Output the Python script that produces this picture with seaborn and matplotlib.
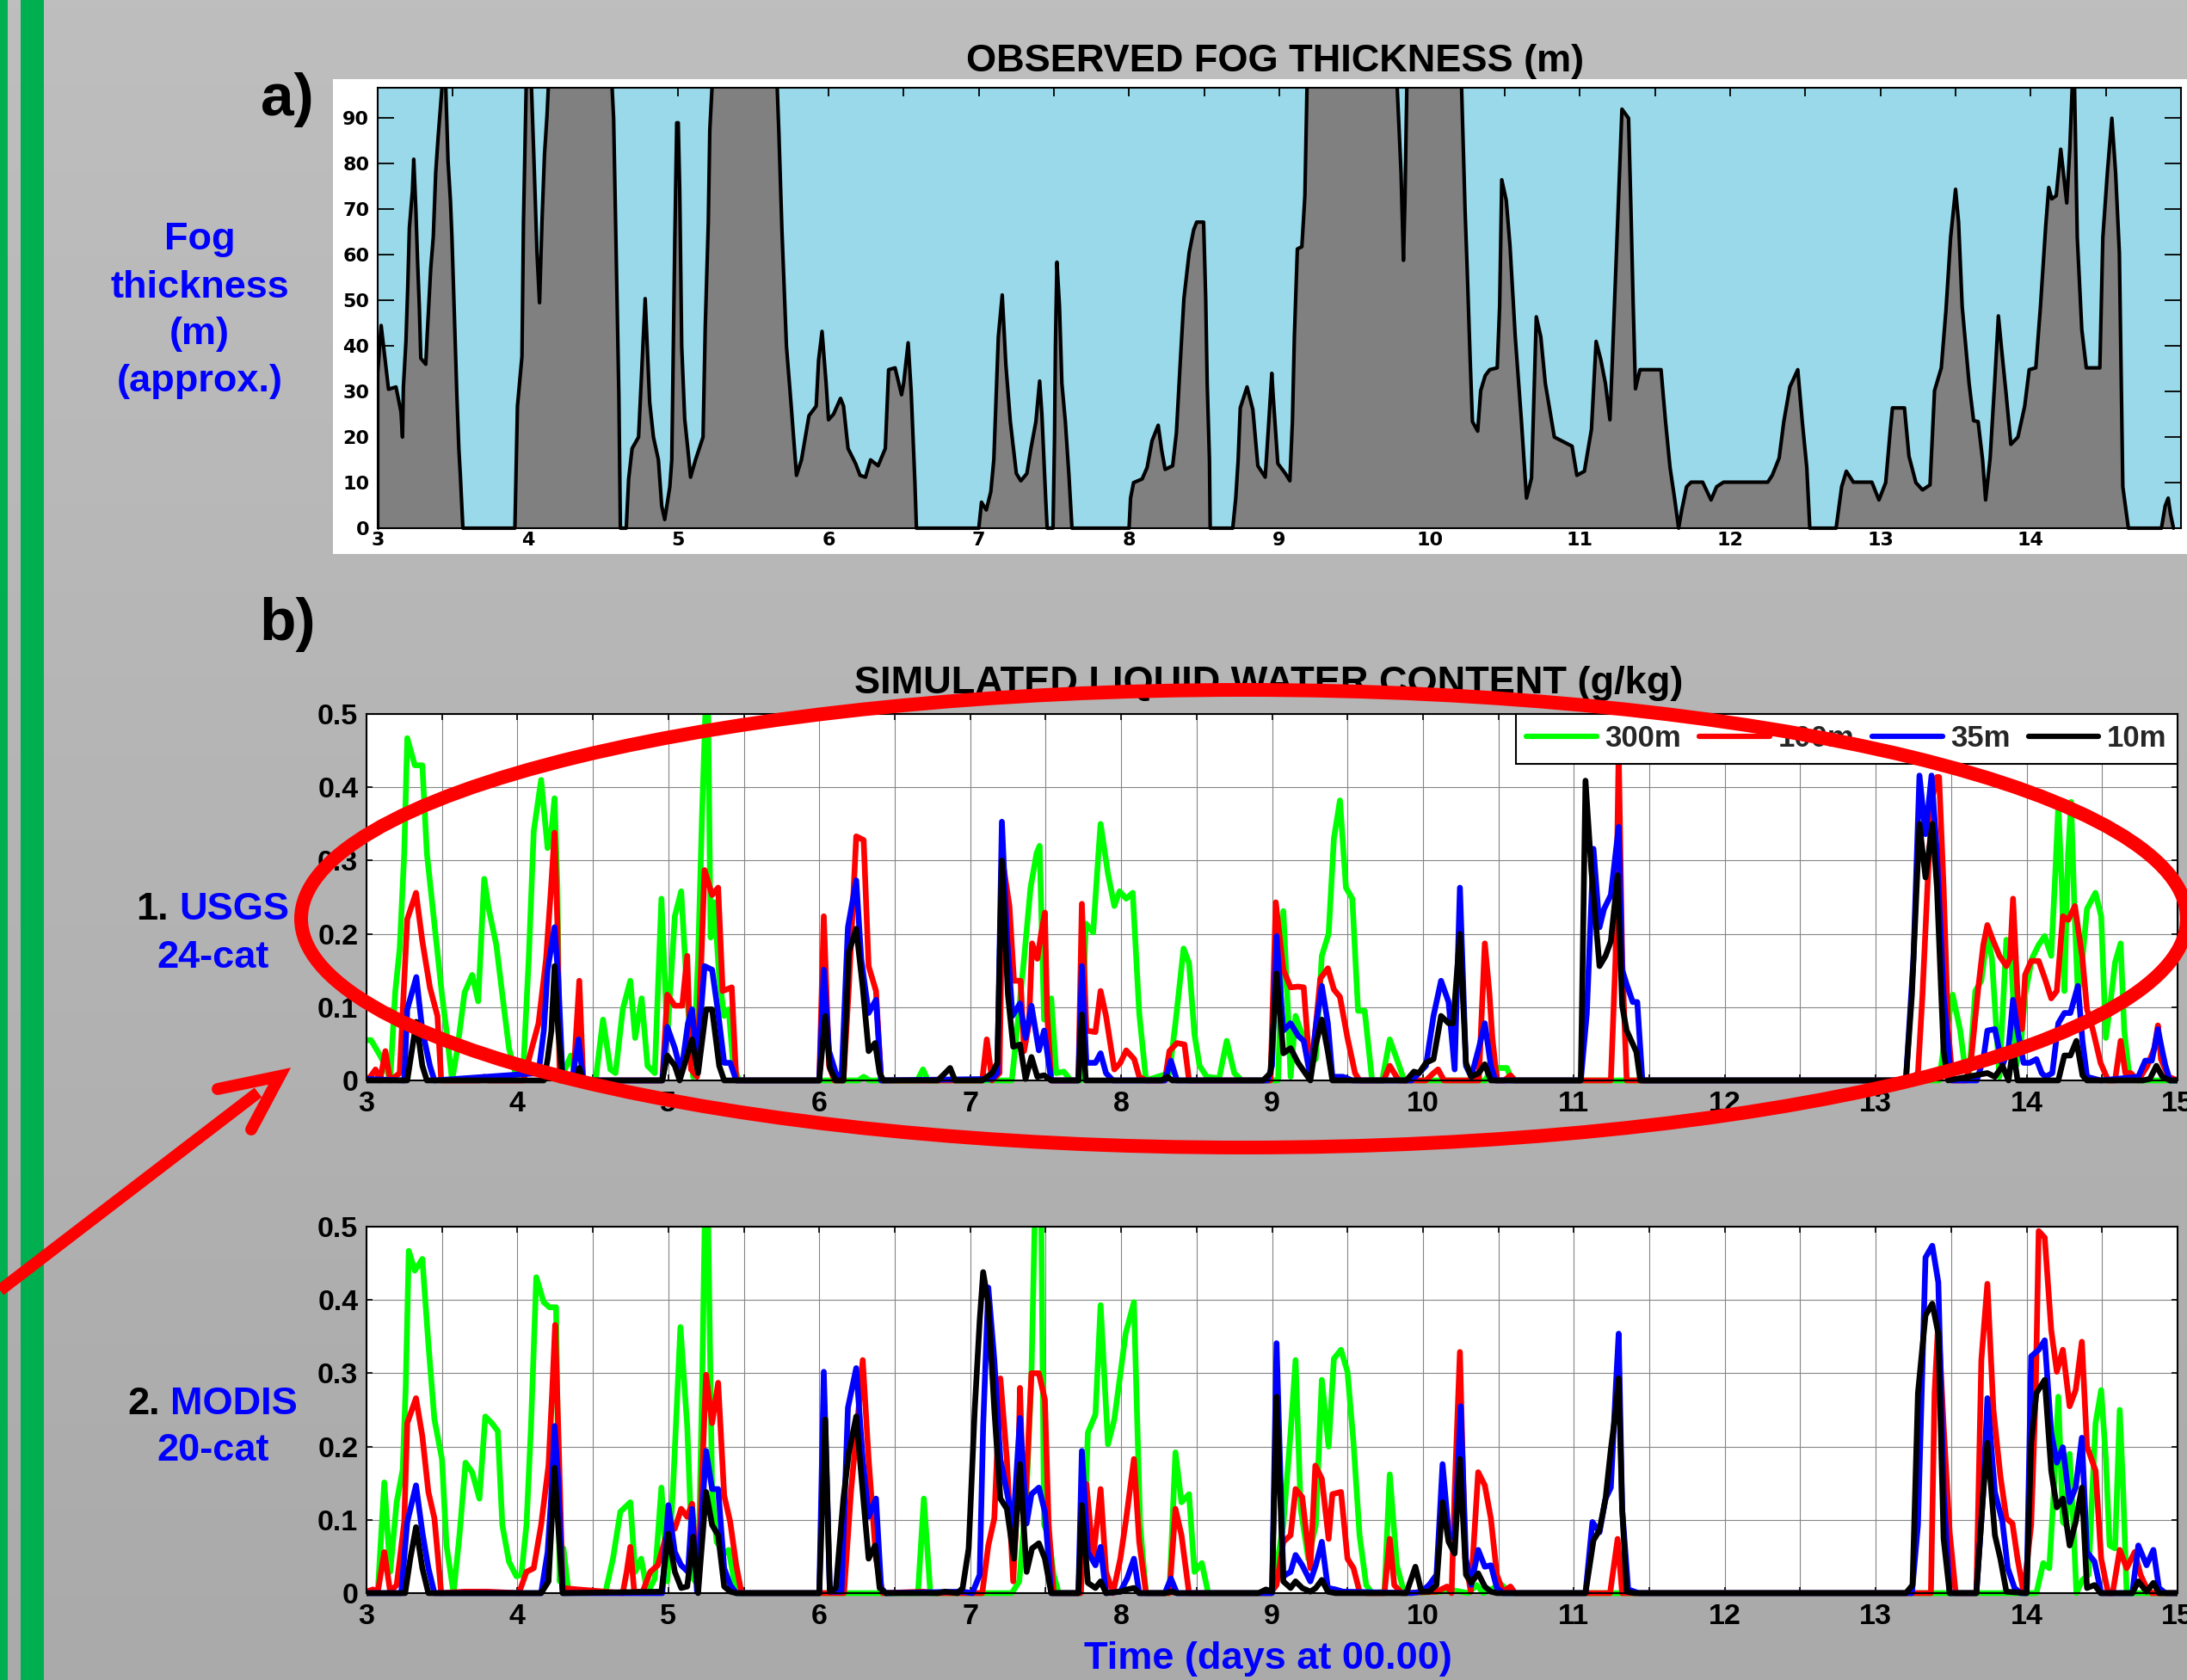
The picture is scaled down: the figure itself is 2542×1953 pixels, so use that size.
import numpy as np
import pandas as pd
import matplotlib
matplotlib.use("Agg")
import matplotlib.pyplot as plt
import seaborn as sns
from matplotlib.patches import Rectangle, Ellipse
from matplotlib.lines import Line2D
from matplotlib.transforms import Bbox, TransformedBbox

# ---------------- DATA ----------------
# a) observed fog thickness (m): (day, thickness); >96.7 m is clipped by the axis
fog = [
 (3.0,0),(3.0,34),(3.023,44.5),(3.072,30.5),(3.122,31),(3.155,25.5),(3.165,20),(3.171,31),(3.188,41),(3.2,53),(3.211,66),(3.231,74),(3.24,81),(3.254,70),(3.265,59),(3.277,48.7),(3.287,37.3),(3.32,36),(3.33,42.8),(3.353,57),(3.37,64),(3.386,78),(3.402,85.8),(3.418,92.5),(3.435,100),(3.45,100),(3.468,80.7),(3.484,72),(3.494,64),(3.517,40),(3.527,29),(3.54,17.5),(3.55,11.6),(3.567,0),
 (3.913,0),(3.93,26.8),(3.96,37.7),(3.97,67),(3.99,100),(4.02,100),(4.04,80.7),(4.06,60.5),(4.077,49.5),(4.094,68),(4.11,82),(4.127,90.8),(4.14,100),(4.555,100),(4.57,90),(4.588,58.8),(4.605,29),(4.615,0),
 (4.654,0),(4.67,10.8),(4.693,17.5),(4.736,20),(4.758,35),(4.78,50.4),(4.79,42.8),(4.81,27.6),(4.835,20),(4.868,15),(4.89,4.9),(4.91,1.9),(4.944,9.1),(4.957,15),(4.977,63),(4.99,89),(5.0,89),(5.01,74),(5.023,40),(5.043,24),(5.066,16.7),(5.082,11.2),(5.115,15),(5.165,20),(5.18,44.5),(5.2,67),(5.21,87.4),(5.23,100),
 (5.655,100),(5.67,86.6),(5.69,65.5),(5.72,40),(5.75,27.6),(5.787,11.6),(5.82,15),(5.87,24.7),(5.918,26.8),(5.934,36.9),(5.957,43.2),(5.984,31.8),(6.0,23.8),(6.033,25),(6.08,28.5),(6.1,26.8),(6.13,17.5),(6.18,14.2),(6.21,11.6),(6.246,11.2),(6.28,15),(6.33,13.7),(6.378,17.5),(6.4,34.8),(6.443,35.2),(6.486,29.3),(6.5,31.8),(6.53,40.7),(6.55,30),(6.575,9.9),(6.585,0),
 (7.0,0),(7.018,5.7),(7.05,4),(7.08,8),(7.1,15),(7.13,42),(7.156,51.2),(7.18,36),(7.21,23.4),(7.25,12),(7.28,10.4),(7.32,12),(7.347,17.5),(7.38,23.4),(7.405,32.3),(7.42,25),(7.445,6.6),(7.455,0),(7.494,0),(7.504,20),(7.51,40),(7.52,58.4),(7.537,48.7),(7.553,31.8),(7.576,23.4),(7.6,11.6),(7.62,0),
 (8.0,0),(8.01,6.6),(8.03,10),(8.087,10.8),(8.12,13.3),(8.153,19.2),(8.194,22.6),(8.217,17.1),(8.24,12.9),(8.29,13.7),(8.315,20.9),(8.34,36),(8.365,50.4),(8.4,60.5),(8.43,65.5),(8.45,67.2),(8.496,67.2),(8.51,50.4),(8.52,31.8),(8.535,15),(8.54,0),
 (8.69,0),(8.71,6.6),(8.726,15),(8.74,26.4),(8.785,31),(8.824,26),(8.857,13.7),(8.906,11.2),(8.93,23.4),(8.95,34),(8.96,28.5),(8.99,14.2),(9.04,12),(9.07,10.4),(9.087,23.4),(9.1,42),(9.12,61.3),(9.15,61.8),(9.17,73),(9.186,100),
 (9.78,100),(9.81,78),(9.826,58.8),(9.836,72),(9.85,100),(10.21,100),(10.22,88.3),(10.236,69.8),(10.25,57),(10.27,36.9),(10.285,23.4),(10.32,21.3),(10.34,30.2),(10.37,33.5),(10.4,34.8),(10.45,35.2),(10.466,48.7),(10.48,76.5),(10.51,72),(10.535,62),(10.57,42),(10.61,24),(10.645,6.6),(10.678,11),(10.71,46.4),(10.74,42),(10.77,31.8),(10.83,20),(10.877,19.2),(10.948,18),(10.98,11.6),(11.03,12.5),(11.077,21.7),(11.108,41),(11.14,36.9),(11.17,31.8),(11.2,23.8),(11.216,36.9),(11.247,63.8),(11.28,92),(11.324,90),(11.34,69.8),(11.355,48.7),(11.37,30.6),(11.4,34.8),(11.54,34.8),(11.57,23.4),(11.6,13.3),(11.63,6.6),(11.657,0),(11.678,4),(11.71,9.1),(11.74,10.1),(11.817,10.1),(11.873,6.2),(11.91,9.1),(11.956,10.1),(12.25,10.1),(12.28,11.6),(12.326,15.4),(12.357,23.4),(12.397,31),(12.45,34.8),(12.48,23.4),(12.51,13.3),(12.53,0),
 (12.705,0),(12.742,9.1),(12.773,12.5),(12.82,10.1),(12.943,10.1),(12.99,6.2),(13.035,10),(13.066,21.7),(13.08,26.4),(13.16,26.4),(13.19,15.8),(13.236,10),(13.28,8.4),(13.33,9.5),(13.36,30.2),(13.405,35.2),(13.436,47.8),(13.467,63.8),(13.5,74.4),(13.52,67.2),(13.544,48.7),(13.59,31.8),(13.62,23.6),(13.65,23.4),(13.68,15),(13.7,6.2),(13.73,15.4),(13.76,31.8),(13.785,46.6),(13.806,39.4),(13.837,29.3),(13.868,18.4),(13.915,20),(13.96,26.8),(13.99,34.8),(14.034,35.2),(14.065,48.7),(14.1,66.4),(14.12,74.8),(14.14,72.3),(14.17,73),(14.2,83.2),(14.22,77.3),(14.24,71.4),(14.26,83.2),(14.28,100),(14.29,100),(14.31,63.8),(14.34,43.6),(14.37,35.2),(14.46,35.2),(14.48,63.8),(14.51,78),(14.54,90),(14.565,78),(14.59,60.5),(14.613,9.1),(14.65,0),(14.87,0),(14.895,4.9),(14.915,6.6),(14.93,3.2),(14.95,0)]

# b1) USGS 24-cat simulated LWC (g/kg): (day, value)
usgs_300m = [
 (3.0,0.055),(3.03,0.055),(3.09,0.034),(3.125,0.02),(3.157,0.0),(3.19,0.12),(3.22,0.18),(3.25,0.31),(3.27,0.467),(3.32,0.43),(3.37,0.43),(3.4,0.31),(3.45,0.214),(3.5,0.117),(3.53,0.068),(3.567,0.0),(3.6,0.04),(3.65,0.12),(3.7,0.144),(3.74,0.108),(3.78,0.275),(3.81,0.234),(3.86,0.185),(3.9,0.117),(3.944,0.044),(3.993,0.005),(4.04,0.02),(4.075,0.166),(4.108,0.34),(4.157,0.41),(4.2,0.317),(4.223,0.336),(4.246,0.385),(4.265,0.263),(4.28,0.0),(4.305,0.01),(4.354,0.034),(4.387,0.0),(4.518,0.0),(4.567,0.083),(4.616,0.015),(4.65,0.01),(4.698,0.097),(4.748,0.136),(4.78,0.058),(4.823,0.112),(4.862,0.02),(4.91,0.01),(4.954,0.248),(4.993,0.058),(5.043,0.224),(5.085,0.258),(5.125,0.117),(5.164,0.005),(5.197,0.166),(5.223,0.36),(5.25,0.53),(5.262,0.53),(5.28,0.195),(5.305,0.243),(5.337,0.141),(5.37,0.088),(5.4,0.097),(5.43,0.02),(5.47,0.0),
 (6.26,0.0),(6.294,0.005),(6.33,0.0),(6.65,0.0),(6.687,0.015),(6.72,0.0),(7.276,0.0),(7.31,0.068),(7.357,0.166),(7.4,0.263),(7.44,0.31),(7.46,0.32),(7.49,0.083),(7.537,0.112),(7.57,0.01),(7.62,0.012),(7.667,0.0),(7.733,0.0),(7.766,0.214),(7.815,0.202),(7.85,0.31),(7.864,0.35),(7.913,0.282),(7.955,0.238),(7.99,0.258),(8.034,0.248),(8.077,0.256),(8.12,0.092),(8.165,0.0),(8.32,0.01),(8.36,0.078),(8.414,0.18),(8.45,0.16),(8.486,0.063),(8.52,0.02),(8.567,0.005),(8.65,0.003),(8.7,0.054),(8.75,0.01),(8.8,0.0),
 (9.04,0.0),(9.075,0.231),(9.107,0.088),(9.123,0.005),(9.156,0.088),(9.19,0.068),(9.24,0.044),(9.29,0.029),(9.33,0.17),(9.375,0.2),(9.41,0.33),(9.45,0.382),(9.49,0.263),(9.532,0.248),(9.57,0.095),(9.614,0.095),(9.663,0.0),(9.73,0.0),(9.78,0.056),(9.827,0.029),(9.876,0.0),(10.415,0.0),(10.45,0.017),(10.51,0.017),(10.556,0.017),(10.59,0.0),
 (13.42,0.0),(13.45,0.044),(13.51,0.117),(13.56,0.068),(13.59,0.02),(13.62,0.01),(13.66,0.122),(13.7,0.136),(13.74,0.2),(13.77,0.166),(13.82,0.005),(13.866,0.192),(13.9,0.161),(13.93,0.02),(13.96,0.044),(13.99,0.117),(14.035,0.166),(14.08,0.185),(14.12,0.197),(14.163,0.17),(14.19,0.282),(14.21,0.375),(14.234,0.263),(14.25,0.122),(14.275,0.31),(14.295,0.38),(14.316,0.238),(14.34,0.117),(14.37,0.166),(14.4,0.234),(14.456,0.256),(14.494,0.224),(14.525,0.058),(14.556,0.107),(14.586,0.161),(14.623,0.187),(14.647,0.068),(14.678,0.01),(14.74,0.0),(15.0,0.0)]
usgs_100m = [
 (3.0,0.002),(3.026,0.005),(3.06,0.015),(3.09,0.0),(3.125,0.04),(3.157,0.0),(3.22,0.01),(3.27,0.22),(3.328,0.256),(3.37,0.19),(3.42,0.127),(3.47,0.088),(3.495,0.0),(3.75,0.0),(3.78,0.005),(3.81,0.0),(4.04,0.0),(4.09,0.04),(4.14,0.078),(4.19,0.166),(4.223,0.263),(4.246,0.338),(4.265,0.214),(4.28,0.0),(4.37,0.0),(4.41,0.136),(4.436,0.0),(4.96,0.0),(4.993,0.117),(5.043,0.102),(5.092,0.102),(5.125,0.17),(5.15,0.015),(5.19,0.005),(5.24,0.287),(5.29,0.253),(5.33,0.263),(5.36,0.122),(5.42,0.127),(5.45,0.0),
 (6.0,0.0),(6.03,0.224),(6.065,0.02),(6.1,0.0),(6.16,0.0),(6.196,0.127),(6.245,0.333),(6.294,0.328),(6.327,0.156),(6.376,0.122),(6.41,0.0),(7.08,0.0),(7.11,0.056),(7.145,0.0),(7.194,0.01),(7.217,0.297),(7.26,0.238),(7.29,0.136),(7.334,0.136),(7.357,0.04),(7.39,0.078),(7.41,0.187),(7.445,0.166),(7.47,0.2),(7.495,0.229),(7.51,0.092),(7.537,0.0),(7.717,0.0),(7.74,0.241),(7.77,0.068),(7.83,0.066),(7.864,0.122),(7.9,0.088),(7.955,0.015),(7.995,0.024),(8.034,0.041),(8.087,0.029),(8.12,0.005),(8.165,0.0),(8.29,0.0),(8.32,0.04),(8.37,0.051),(8.42,0.049),(8.45,0.0),
 (8.99,0.0),(9.025,0.243),(9.075,0.151),(9.123,0.127),(9.173,0.128),(9.21,0.127),(9.254,0.005),(9.287,0.068),(9.32,0.139),(9.37,0.153),(9.41,0.124),(9.45,0.114),(9.5,0.058),(9.55,0.01),(9.58,0.0),(9.74,0.0),(9.78,0.02),(9.81,0.01),(9.84,0.0),(10.02,0.0),(10.07,0.01),(10.1,0.015),(10.14,0.0),(10.37,0.0),(10.41,0.187),(10.44,0.12),(10.46,0.058),(10.49,0.0),(10.54,0.0),(10.58,0.007),(10.61,0.0),(11.245,0.0),(11.276,0.166),(11.297,0.45),(11.32,0.166),(11.35,0.0),
 (13.22,0.0),(13.28,0.01),(13.31,0.117),(13.345,0.273),(13.375,0.385),(13.406,0.414),(13.42,0.414),(13.45,0.263),(13.48,0.068),(13.51,0.0),(13.6,0.0),(13.635,0.034),(13.68,0.127),(13.713,0.185),(13.74,0.212),(13.77,0.195),(13.82,0.17),(13.866,0.156),(13.89,0.166),(13.91,0.248),(13.94,0.117),(13.97,0.07),(13.99,0.144),(14.03,0.163),(14.08,0.163),(14.126,0.136),(14.163,0.112),(14.2,0.122),(14.24,0.224),(14.276,0.219),(14.32,0.238),(14.37,0.166),(14.4,0.097),(14.44,0.068),(14.49,0.024),(14.54,0.0),(14.586,0.0),(14.623,0.054),(14.654,0.01),(14.69,0.01),(14.74,0.0),(14.8,0.02),(14.847,0.044),(14.87,0.075),(14.89,0.029),(14.94,0.005),(15.0,0.0)]
usgs_35m = [
 (3.0,0.002),(3.25,0.0),(3.27,0.097),(3.33,0.141),(3.37,0.068),(3.42,0.02),(3.45,0.0),(4.14,0.01),(4.175,0.068),(4.2,0.151),(4.246,0.209),(4.27,0.141),(4.3,0.0),(4.37,0.01),(4.405,0.056),(4.436,0.0),(4.96,0.0),(4.993,0.073),(5.043,0.044),(5.085,0.01),(5.13,0.078),(5.157,0.097),(5.19,0.024),(5.24,0.156),(5.29,0.151),(5.33,0.092),(5.37,0.024),(5.41,0.024),(5.45,0.0),
 (6.0,0.0),(6.03,0.151),(6.065,0.04),(6.11,0.01),(6.147,0.0),(6.19,0.209),(6.245,0.273),(6.278,0.166),(6.327,0.092),(6.376,0.11),(6.41,0.0),(7.145,0.002),(7.18,0.01),(7.21,0.353),(7.243,0.2),(7.28,0.088),(7.33,0.105),(7.367,0.058),(7.406,0.102),(7.455,0.041),(7.49,0.068),(7.537,0.0),(7.717,0.0),(7.74,0.156),(7.77,0.024),(7.83,0.024),(7.864,0.037),(7.9,0.01),(7.946,0.0),(8.29,0.0),(8.33,0.027),(8.37,0.0),
 (8.97,0.0),(9.0,0.02),(9.03,0.197),(9.075,0.068),(9.123,0.078),(9.173,0.061),(9.21,0.054),(9.254,0.005),(9.29,0.073),(9.33,0.129),(9.37,0.078),(9.4,0.005),(9.47,0.005),(9.532,0.0),(9.925,0.0),(9.974,0.01),(10.02,0.02),(10.07,0.088),(10.12,0.136),(10.17,0.107),(10.21,0.015),(10.245,0.263),(10.285,0.02),(10.32,0.005),(10.37,0.044),(10.41,0.078),(10.45,0.02),(10.48,0.0),
 (11.046,0.0),(11.086,0.092),(11.13,0.316),(11.17,0.209),(11.2,0.234),(11.245,0.253),(11.297,0.346),(11.32,0.151),(11.35,0.131),(11.39,0.107),(11.42,0.107),(11.454,0.0),(13.2,0.0),(13.25,0.166),(13.29,0.416),(13.33,0.336),(13.37,0.416),(13.406,0.31),(13.45,0.117),(13.5,0.0),(13.67,0.0),(13.713,0.029),(13.74,0.068),(13.79,0.07),(13.84,0.02),(13.88,0.044),(13.91,0.11),(13.94,0.068),(13.98,0.024),(14.02,0.024),(14.065,0.029),(14.1,0.01),(14.126,0.005),(14.17,0.01),(14.21,0.078),(14.25,0.092),(14.29,0.092),(14.34,0.129),(14.37,0.054),(14.4,0.005),(14.49,0.0),(14.74,0.005),(14.786,0.027),(14.83,0.027),(14.87,0.07),(14.9,0.039),(14.92,0.02),(14.95,0.0),(15.0,0.0)]
usgs_10m = [
 (3.0,0.0),(3.27,0.0),(3.3,0.04),(3.33,0.08),(3.37,0.02),(3.4,0.0),(4.175,0.0),(4.2,0.029),(4.225,0.068),(4.246,0.156),(4.27,0.068),(4.3,0.0),(4.39,0.0),(4.41,0.017),(4.436,0.0),(4.96,0.0),(4.993,0.034),(5.043,0.02),(5.075,0.0),(5.125,0.034),(5.157,0.056),(5.197,0.01),(5.25,0.097),(5.29,0.097),(5.337,0.02),(5.37,0.0),
 (6.0,0.0),(6.04,0.088),(6.07,0.017),(6.11,0.0),(6.16,0.0),(6.196,0.175),(6.245,0.207),(6.288,0.127),(6.327,0.04),(6.37,0.051),(6.4,0.01),(6.425,0.0),(6.785,0.0),(6.834,0.01),(6.867,0.017),(6.9,0.0),(7.08,0.0),(7.145,0.01),(7.18,0.024),(7.21,0.3),(7.25,0.117),(7.285,0.046),(7.33,0.049),(7.367,0.002),(7.406,0.032),(7.445,0.005),(7.49,0.007),(7.537,0.0),(7.717,0.0),(7.74,0.09),(7.766,0.0),(8.27,0.0),(8.306,0.005),(8.34,0.0),
 (8.94,0.0),(8.99,0.01),(9.03,0.146),(9.075,0.037),(9.123,0.044),(9.173,0.024),(9.22,0.01),(9.254,0.0),(9.29,0.049),(9.33,0.083),(9.37,0.039),(9.4,0.0),(9.89,0.0),(9.94,0.012),(9.974,0.01),(10.02,0.024),(10.07,0.029),(10.12,0.088),(10.17,0.078),(10.2,0.078),(10.245,0.2),(10.285,0.024),(10.32,0.005),(10.37,0.01),(10.41,0.022),(10.45,0.0),
 (11.046,0.0),(11.077,0.409),(11.116,0.287),(11.17,0.156),(11.21,0.17),(11.245,0.19),(11.29,0.28),(11.32,0.102),(11.35,0.068),(11.414,0.039),(11.44,0.0),(13.2,0.0),(13.24,0.117),(13.29,0.35),(13.33,0.277),(13.376,0.35),(13.406,0.263),(13.45,0.039),(13.48,0.0),(13.74,0.01),(13.79,0.005),(13.84,0.02),(13.88,0.0),(13.91,0.044),(13.94,0.0),(14.21,0.0),(14.25,0.034),(14.29,0.034),(14.33,0.054),(14.37,0.007),(14.4,0.0),(14.77,0.0),(14.816,0.002),(14.86,0.02),(14.9,0.005),(14.95,0.0),(15.0,0.0)]

# b2) MODIS 20-cat simulated LWC (g/kg)
modis_300m = [
 (3.0,0.0),(3.075,0.002),(3.118,0.151),(3.157,0.029),(3.2,0.124),(3.24,0.169),(3.26,0.282),(3.28,0.467),(3.32,0.44),(3.37,0.456),(3.41,0.34),(3.45,0.237),(3.5,0.183),(3.53,0.065),(3.577,0.0),(3.616,0.079),(3.656,0.178),(3.7,0.165),(3.748,0.129),(3.787,0.241),(3.83,0.232),(3.87,0.221),(3.9,0.093),(3.944,0.043),(3.993,0.023),(4.026,0.025),(4.06,0.093),(4.09,0.228),(4.125,0.431),(4.174,0.397),(4.213,0.39),(4.256,0.39),(4.28,0.016),(4.305,0.061),(4.338,0.002),(4.436,0.0),(4.584,0.002),(4.633,0.047),(4.682,0.111),(4.748,0.124),(4.78,0.029),(4.82,0.047),(4.862,0.0),(4.91,0.02),(4.954,0.144),(4.993,0.016),(5.03,0.138),(5.08,0.363),(5.125,0.228),(5.164,0.02),(5.197,0.011),(5.223,0.273),(5.243,0.53),(5.262,0.53),(5.29,0.138),(5.32,0.07),(5.37,0.054),(5.4,0.059),(5.45,0.0),
 (6.654,0.0),(6.693,0.129),(6.736,0.0),(7.276,0.0),(7.325,0.016),(7.374,0.138),(7.406,0.3),(7.43,0.53),(7.47,0.53),(7.49,0.093),(7.52,0.079),(7.553,0.025),(7.586,0.0),(7.733,0.0),(7.766,0.138),(7.78,0.219),(7.83,0.244),(7.864,0.393),(7.913,0.203),(7.955,0.237),(7.99,0.291),(8.03,0.354),(8.085,0.397),(8.126,0.093),(8.165,0.0),(8.32,0.0),(8.36,0.192),(8.4,0.124),(8.45,0.135),(8.486,0.029),(8.535,0.041),(8.577,0.0),
 (9.0,0.0),(9.075,0.093),(9.123,0.219),(9.156,0.318),(9.19,0.115),(9.24,0.047),(9.29,0.093),(9.33,0.291),(9.375,0.2),(9.41,0.32),(9.457,0.332),(9.5,0.302),(9.54,0.205),(9.58,0.079),(9.624,0.011),(9.663,0.0),(9.745,0.002),(9.78,0.162),(9.827,0.038),(9.876,0.0),(10.12,0.002),(10.17,0.005),(10.3,0.0),(10.356,0.011),(10.4,0.0),(10.51,0.011),(10.525,0.011),(10.57,0.0),
 (14.065,0.0),(14.11,0.041),(14.15,0.034),(14.18,0.138),(14.21,0.268),(14.24,0.097),(14.26,0.093),(14.285,0.19),(14.31,0.093),(14.33,0.0),(14.37,0.018),(14.41,0.025),(14.43,0.115),(14.457,0.232),(14.494,0.277),(14.525,0.183),(14.55,0.065),(14.586,0.061),(14.617,0.25),(14.64,0.138),(14.663,0.0),(15.0,0.0)]
modis_100m = [
 (3.0,0.002),(3.043,0.005),(3.075,0.002),(3.118,0.056),(3.157,0.002),(3.2,0.011),(3.25,0.097),(3.27,0.232),(3.328,0.266),(3.37,0.214),(3.41,0.138),(3.45,0.102),(3.495,0.0),(3.65,0.002),(3.8,0.002),(4.01,0.0),(4.06,0.029),(4.108,0.034),(4.157,0.093),(4.206,0.174),(4.23,0.273),(4.25,0.366),(4.27,0.228),(4.3,0.007),(4.4,0.005),(4.698,0.0),(4.724,0.029),(4.748,0.063),(4.774,0.002),(4.83,0.002),(4.88,0.029),(4.93,0.038),(4.993,0.083),(5.043,0.088),(5.085,0.115),(5.125,0.104),(5.157,0.122),(5.197,0.002),(5.223,0.16),(5.25,0.298),(5.29,0.232),(5.33,0.287),(5.37,0.133),(5.41,0.097),(5.45,0.038),(5.485,0.0),
 (6.164,0.0),(6.21,0.138),(6.26,0.25),(6.288,0.318),(6.327,0.183),(6.376,0.047),(6.42,0.0),(6.687,0.002),(6.785,0.0),(7.08,0.0),(7.12,0.065),(7.16,0.102),(7.2,0.293),(7.243,0.183),(7.285,0.016),(7.315,0.138),(7.33,0.28),(7.357,0.093),(7.38,0.183),(7.406,0.3),(7.455,0.3),(7.495,0.264),(7.52,0.093),(7.553,0.0),(7.733,0.0),(7.77,0.149),(7.815,0.047),(7.864,0.142),(7.9,0.029),(7.946,0.0),(7.995,0.047),(8.034,0.102),(8.085,0.183),(8.12,0.07),(8.165,0.0),(8.32,0.0),(8.36,0.115),(8.4,0.079),(8.45,0.0),
 (8.99,0.0),(9.03,0.011),(9.075,0.07),(9.123,0.079),(9.156,0.142),(9.2,0.131),(9.254,0.034),(9.287,0.174),(9.33,0.156),(9.375,0.074),(9.4,0.135),(9.457,0.138),(9.5,0.047),(9.54,0.034),(9.58,0.002),(9.63,0.0),(9.745,0.0),(9.78,0.074),(9.81,0.011),(9.86,0.0),(10.09,0.002),(10.16,0.009),(10.19,0.0),(10.21,0.138),(10.245,0.329),(10.28,0.047),(10.317,0.002),(10.366,0.165),(10.41,0.147),(10.45,0.102),(10.49,0.025),(10.53,0.002),(10.58,0.009),(10.61,0.0),(11.24,0.0),(11.29,0.074),(11.32,0.0),
 (13.366,0.0),(13.39,0.273),(13.415,0.372),(13.45,0.228),(13.49,0.083),(13.53,0.0),(13.667,0.0),(13.7,0.318),(13.74,0.422),(13.78,0.25),(13.826,0.16),(13.866,0.102),(13.906,0.095),(13.94,0.047),(13.98,0.0),(14.03,0.093),(14.06,0.273),(14.08,0.494),(14.12,0.485),(14.163,0.359),(14.2,0.302),(14.24,0.332),(14.285,0.255),(14.325,0.277),(14.366,0.343),(14.4,0.2),(14.457,0.167),(14.494,0.047),(14.54,0.0),(14.57,0.0),(14.617,0.059),(14.663,0.034),(14.716,0.056),(14.755,0.025),(14.795,0.007),(14.83,0.0),(15.0,0.0)]
modis_35m = [
 (3.0,0.0),(3.23,0.0),(3.27,0.097),(3.328,0.147),(3.37,0.083),(3.41,0.034),(3.45,0.0),(4.157,0.0),(4.2,0.056),(4.223,0.128),(4.246,0.228),(4.27,0.156),(4.3,0.0),(4.96,0.0),(5.0,0.12),(5.043,0.056),(5.085,0.038),(5.13,0.029),(5.157,0.115),(5.19,0.002),(5.25,0.194),(5.29,0.142),(5.33,0.142),(5.37,0.034),(5.41,0.011),(5.45,0.0),
 (6.0,0.0),(6.03,0.302),(6.07,0.002),(6.147,0.002),(6.19,0.253),(6.245,0.307),(6.288,0.183),(6.327,0.104),(6.376,0.129),(6.41,0.007),(6.44,0.0),(6.95,0.002),(7.014,0.0),(7.063,0.025),(7.086,0.228),(7.12,0.417),(7.16,0.318),(7.2,0.183),(7.243,0.138),(7.285,0.093),(7.33,0.239),(7.374,0.095),(7.406,0.135),(7.455,0.144),(7.495,0.111),(7.537,0.0),(7.717,0.0),(7.74,0.194),(7.78,0.056),(7.83,0.038),(7.864,0.063),(7.9,0.0),(7.995,0.002),(8.04,0.02),(8.085,0.047),(8.12,0.0),(8.29,0.0),(8.33,0.02),(8.37,0.0),
 (9.0,0.0),(9.03,0.341),(9.075,0.023),(9.123,0.029),(9.156,0.052),(9.2,0.038),(9.254,0.016),(9.29,0.038),(9.33,0.07),(9.37,0.007),(9.42,0.005),(9.47,0.002),(9.925,0.0),(9.99,0.002),(10.04,0.011),(10.09,0.025),(10.13,0.176),(10.17,0.083),(10.21,0.074),(10.25,0.255),(10.285,0.047),(10.32,0.011),(10.366,0.059),(10.41,0.036),(10.45,0.038),(10.49,0.007),(10.53,0.0),
 (11.077,0.0),(11.123,0.097),(11.17,0.083),(11.21,0.129),(11.245,0.144),(11.276,0.273),(11.297,0.354),(11.32,0.115),(11.36,0.005),(11.43,0.0),(13.24,0.0),(13.28,0.093),(13.33,0.458),(13.375,0.474),(13.415,0.424),(13.45,0.138),(13.49,0.0),(13.667,0.0),(13.713,0.138),(13.74,0.266),(13.79,0.138),(13.84,0.097),(13.875,0.034),(13.92,0.007),(13.96,0.0),(14.0,0.0),(14.03,0.323),(14.08,0.332),(14.12,0.345),(14.163,0.219),(14.2,0.178),(14.24,0.199),(14.285,0.124),(14.325,0.144),(14.366,0.212),(14.4,0.056),(14.45,0.043),(14.494,0.0),(14.7,0.0),(14.74,0.065),(14.795,0.038),(14.84,0.059),(14.877,0.007),(14.92,0.0),(15.0,0.0)]
modis_10m = [
 (3.0,0.0),(3.256,0.0),(3.29,0.047),(3.328,0.09),(3.37,0.034),(3.41,0.0),(4.157,0.0),(4.206,0.016),(4.246,0.171),(4.27,0.093),(4.3,0.0),(4.954,0.002),(5.0,0.081),(5.043,0.029),(5.085,0.007),(5.125,0.009),(5.164,0.077),(5.197,0.0),(5.25,0.138),(5.29,0.093),(5.33,0.079),(5.37,0.009),(5.41,0.002),(5.45,0.0),
 (6.0,0.0),(6.04,0.237),(6.07,0.002),(6.11,0.007),(6.16,0.129),(6.196,0.192),(6.245,0.241),(6.288,0.138),(6.327,0.047),(6.37,0.065),(6.4,0.007),(6.44,0.0),(6.785,0.0),(6.834,0.002),(6.916,0.0),(6.95,0.007),(6.99,0.061),(7.03,0.25),(7.063,0.372),(7.086,0.438),(7.12,0.395),(7.16,0.25),(7.2,0.129),(7.243,0.115),(7.29,0.047),(7.33,0.176),(7.374,0.029),(7.41,0.061),(7.455,0.068),(7.495,0.047),(7.537,0.0),(7.717,0.0),(7.74,0.12),(7.78,0.014),(7.83,0.007),(7.864,0.016),(7.9,0.0),(7.995,0.002),(8.04,0.005),(8.085,0.007),(8.12,0.0),(8.29,0.0),(8.33,0.002),(8.37,0.0),
 (8.91,0.0),(8.96,0.005),(9.0,0.002),(9.03,0.268),(9.075,0.016),(9.123,0.007),(9.156,0.016),(9.2,0.007),(9.254,0.002),(9.29,0.007),(9.33,0.018),(9.37,0.002),(9.42,0.0),(9.89,0.0),(9.95,0.036),(9.99,0.002),(10.04,0.002),(10.09,0.011),(10.13,0.124),(10.17,0.07),(10.21,0.054),(10.245,0.183),(10.285,0.025),(10.32,0.014),(10.366,0.027),(10.41,0.009),(10.45,0.002),(10.49,0.0),
 (11.077,0.0),(11.13,0.072),(11.17,0.086),(11.21,0.129),(11.245,0.196),(11.27,0.237),(11.297,0.293),(11.32,0.115),(11.35,0.002),(11.4,0.0),(13.2,0.0),(13.244,0.011),(13.28,0.273),(13.33,0.379),(13.375,0.395),(13.415,0.354),(13.45,0.074),(13.49,0.0),(13.667,0.0),(13.713,0.138),(13.74,0.205),(13.79,0.079),(13.826,0.047),(13.866,0.002),(14.0,0.0),(14.03,0.205),(14.065,0.273),(14.12,0.291),(14.163,0.167),(14.2,0.117),(14.24,0.129),(14.285,0.065),(14.325,0.097),(14.366,0.144),(14.4,0.007),(14.45,0.011),(14.49,0.0),(14.7,0.0),(14.74,0.016),(14.795,0.002),(14.84,0.014),(14.877,0.0),(15.0,0.0)]

levels = ["300m", "100m", "35m", "10m"]
level_colors = ["#00ff00", "#ff0000", "#0000ff", "#000000"]
day_ticks = list(range(3, 16))
fog_ticks = list(range(0, 100, 10))
lwc_ticks = [0, 0.1, 0.2, 0.3, 0.4, 0.5]
lwc_tick_labels = ["0", "0.1", "0.2", "0.3", "0.4", "0.5"]

# ---------------- STYLE ----------------
sns.set_theme(style="ticks")
plt.rcParams["font.family"] = ["Liberation Sans", "DejaVu Sans"]
plt.rcParams["font.weight"] = "bold"

W, H = 2542, 1953
fig = plt.figure(figsize=(W / 100, H / 100), dpi=100)

def frac(left, top, right, bottom):
    return [left / W, 1 - bottom / H, (right - left) / W, (bottom - top) / H]

# background (grey gradient, green stripes, white box of panel a)
bg = fig.add_axes([0, 0, 1, 1], zorder=-10)
grad = np.linspace(0xbe, 0xaa, 256) / 255.0
bg.imshow(np.dstack([grad, grad, grad]).reshape(256, 1, 3),
          aspect="auto", extent=[0, W, H, 0])
bg.set_xlim(0, W); bg.set_ylim(H, 0); bg.axis("off")
bg.add_patch(Rectangle((0, 0), 8.6, H, color="#00b050", lw=0))
bg.add_patch(Rectangle((24, 0), 26.5, H, color="#00b050", lw=0))
bg.add_patch(Rectangle((387, 92), W - 387, 552, color="white", lw=0))

# ---------------- PANEL a ----------------
axa = fig.add_axes(frac(439, 102, 2535, 614))
fx = [p[0] for p in fog]
fy = [p[1] for p in fog]
axa.set_facecolor("#9ad9ea")
axa.fill_between(fx, fy, 0, color="#808080", lw=0)
sns.lineplot(x=fx, y=fy, sort=False, estimator=None, color="black", lw=3.0, ax=axa)
axa.set_xlim(3, 15)
axa.set_ylim(0, 96.7)
axa.set_xticks(day_ticks[:-1])
axa.set_xticklabels([str(d) for d in day_ticks[:-1]])
axa.set_xticks(np.arange(3.5, 15, 1.0), minor=True)
axa.set_yticks(fog_ticks)
axa.set_yticklabels([str(v) for v in fog_ticks])
axa.tick_params(axis="x", which="both", direction="in", length=7, width=1.3,
                top=True, bottom=True, pad=3, labelsize=16, colors="black")
axa.tick_params(axis="y", which="both", direction="in", length=14, width=1.3,
                left=True, right=True, pad=7, labelsize=16, colors="black")
for lab in axa.get_xticklabels() + axa.get_yticklabels():
    lab.set_family("DejaVu Sans"); lab.set_weight("bold")
for s in axa.spines.values():
    s.set_color("black"); s.set_linewidth(1.5)
axa.set_xlabel(""); axa.set_ylabel("")
bba = TransformedBbox(Bbox([[0, -0.02], [1, 1]]), axa.transAxes)
for ln in axa.lines:
    ln.set_clip_path(None)
    ln.set_clip_box(bba)

# ---------------- PANELS b ----------------
def lwc_panel(rect, series, legend):
    ax = fig.add_axes(rect)
    rows = []
    for name, pts in zip(levels, series):
        for d, v in pts:
            rows.append((name, d, v))
    df = pd.DataFrame(rows, columns=["level", "day", "lwc"])
    ax.set_facecolor("white")
    sns.lineplot(data=df, x="day", y="lwc", hue="level", hue_order=levels,
                 palette=level_colors, sort=False, estimator=None, lw=4.8,
                 legend=False, ax=ax)
    ax.set_xlim(3, 15)
    ax.set_ylim(0, 0.5)
    ax.set_xticks(day_ticks)
    ax.set_xticklabels([str(d) for d in day_ticks])
    ax.set_xticks(np.arange(3.5, 15, 1.0), minor=True)
    ax.set_yticks(lwc_ticks)
    ax.set_yticklabels(lwc_tick_labels)
    ax.grid(True, which="both", axis="x", color="#858585", lw=0.8)
    ax.grid(True, which="major", axis="y", color="#858585", lw=0.8)
    ax.tick_params(which="both", direction="in", length=5, width=1.2,
                   top=True, right=True, labelsize=24.5, colors="black")
    ax.tick_params(axis="y", pad=7)
    ax.tick_params(axis="x", pad=9)
    for lab in ax.get_xticklabels() + ax.get_yticklabels():
        lab.set_weight("bold")
    for s in ax.spines.values():
        s.set_color("black"); s.set_linewidth(1.5)
    ax.set_xlabel(""); ax.set_ylabel("")
    bb = TransformedBbox(Bbox([[0, -0.03], [1, 1]]), ax.transAxes)
    for ln in ax.lines:
        ln.set_clip_path(None)
        ln.set_clip_box(bb)
    if legend:
        handles = [Line2D([0], [0], color=c, lw=4.5) for c in level_colors]
        leg = ax.legend(handles, levels, loc="upper right", bbox_to_anchor=(1, 1),
                        borderaxespad=0, ncol=4, handlelength=2.35,
                        handletextpad=0.28, columnspacing=0.6, borderpad=0.36,
                        fancybox=False, framealpha=1, edgecolor="black",
                        prop={"weight": "bold", "size": 25})
        leg.get_frame().set_linewidth(1.5)
    return ax

axb1 = lwc_panel(frac(426, 830, 2531, 1256),
                 [usgs_300m, usgs_100m, usgs_35m, usgs_10m], legend=True)
axb2 = lwc_panel(frac(426, 1426, 2531, 1852),
                 [modis_300m, modis_100m, modis_35m, modis_10m], legend=False)

# ---------------- OVERLAY: texts, ellipse, arrow ----------------
ov = fig.add_axes([0, 0, 1, 1], zorder=20)
ov.set_xlim(0, W); ov.set_ylim(H, 0); ov.axis("off")
ov.patch.set_alpha(0)

FS = 32.5
ov.text(1482, 83, "OBSERVED FOG THICKNESS (m)", ha="center", va="baseline",
        fontsize=FS, weight="bold", color="black", zorder=3)
ov.text(1475, 806, "SIMULATED LIQUID WATER CONTENT (g/kg)", ha="center",
        va="baseline", fontsize=FS, weight="bold", color="black", zorder=3)
ov.text(334, 134, "a)", ha="center", va="baseline", fontsize=50, weight="bold",
        color="black", zorder=3)
ov.text(334, 744, "b)", ha="center", va="baseline", fontsize=50, weight="bold",
        color="black", zorder=3)
for txt, yb in [("Fog", 290), ("thickness", 346), ("(m)", 400), ("(approx.)", 455)]:
    ov.text(232, yb, txt, ha="center", va="baseline", fontsize=FS, weight="bold",
            color="#0000ff", zorder=3)
ov.text(158, 1069, "1.", ha="left", va="baseline", fontsize=FS, weight="bold",
        color="black", zorder=3)
ov.text(208, 1069, "USGS", ha="left", va="baseline", fontsize=FS, weight="bold",
        color="#0000ff", zorder=3)
ov.text(248, 1125, "24-cat", ha="center", va="baseline", fontsize=FS,
        weight="bold", color="#0000ff", zorder=3)
ov.text(148, 1644, "2.", ha="left", va="baseline", fontsize=FS, weight="bold",
        color="black", zorder=3)
ov.text(198, 1644, "MODIS", ha="left", va="baseline", fontsize=FS, weight="bold",
        color="#0000ff", zorder=3)
ov.text(248, 1698, "20-cat", ha="center", va="baseline", fontsize=FS,
        weight="bold", color="#0000ff", zorder=3)
ov.text(1474, 1940, "Time (days at 00.00)", ha="center", va="baseline",
        fontsize=FS, weight="bold", color="#0000ff", zorder=3)

ov.add_patch(Ellipse((1446, 1068), 2192, 532, fill=False, ec="#ff0000",
                     lw=11.5, zorder=5))
ov.add_line(Line2D([0, 300], [1500, 1270], color="#ff0000", lw=10,
                   solid_capstyle="butt", zorder=5))
ov.add_line(Line2D([253, 325, 292], [1266, 1251, 1313], color="#ff0000", lw=10,
                   solid_joinstyle="miter", solid_capstyle="round", zorder=5))

fig.savefig("out.png", dpi=100)
